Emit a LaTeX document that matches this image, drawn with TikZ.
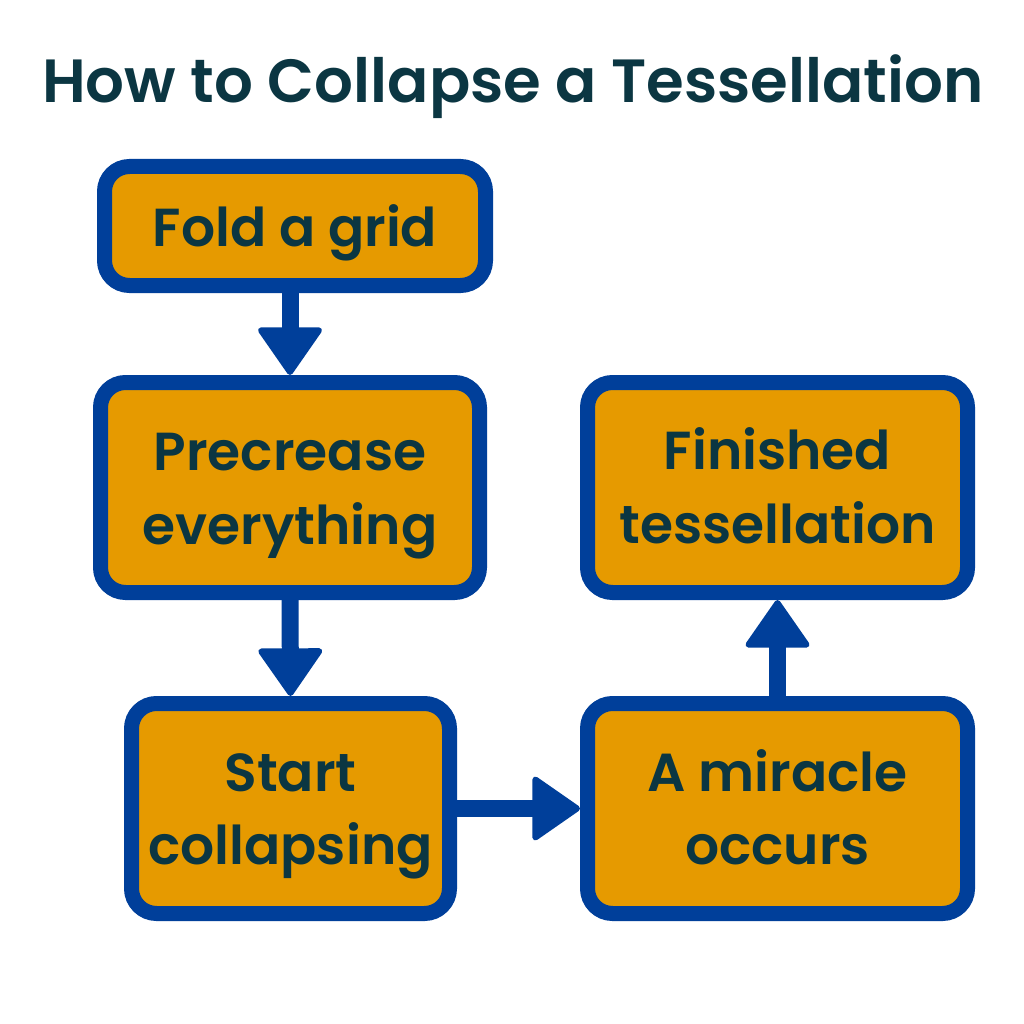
\documentclass[tikz,border=0pt]{standalone}
\usepackage{fontspec}
\setmainfont{Poppins SemiBold}
\usetikzlibrary{arrows.meta}
\definecolor{boxblue}{HTML}{003F9A}
\definecolor{boxfill}{HTML}{E69A00}
\definecolor{ink}{HTML}{0B3642}
\tikzset{
  stepbox/.style={draw=boxblue, fill=boxfill, line width=15pt, rounded corners=25pt, inner sep=0pt},
  boxtext/.style={text=ink, font=\fontsize{53.5}{74}\selectfont, anchor=base, inner sep=0pt},
  flow/.style={draw=boxblue, line width=17pt, -{Triangle[width=68pt,length=50pt,line width=6pt,round]}}
}
\begin{document}
\begin{tikzpicture}[x=1pt,y=-1pt]
\useasboundingbox (0,0) rectangle (1024,1024);
\fill[white] (0,0) rectangle (1024,1024);
\node[text=ink, font=\fontsize{61}{70}\selectfont, anchor=base, inner sep=0pt] (title) at (513,103) {How to Collapse a Tessellation};
% boxes
\node[stepbox, minimum width=381pt, minimum height=119pt] (b1) at (295,226) {};
\node[stepbox, minimum width=379pt, minimum height=210pt] (b2) at (290,487.5) {};
\node[stepbox, minimum width=318pt, minimum height=210pt] (b3) at (290.5,808.5) {};
\node[stepbox, minimum width=380pt, minimum height=210pt] (b4) at (777.5,808.5) {};
\node[stepbox, minimum width=380pt, minimum height=210pt] (b5) at (777.5,487.5) {};
% texts
\node[boxtext] (t1) at (295,247) {Fold a grid};
\node[boxtext] (t2a) at (290,470) {Precrease};
\node[boxtext] (t2b) at (290,544) {everything};
\node[boxtext] (t3a) at (290.5,791) {Start};
\node[boxtext] (t3b) at (290.5,864) {collapsing};
\node[boxtext] (t4a) at (777.5,791) {A miracle};
\node[boxtext] (t4b) at (777.5,864) {occurs};
\node[boxtext] (t5a) at (777.5,469) {Finished};
\node[boxtext] (t5b) at (777.5,543) {tessellation};
% arrows
\draw[flow] (b2.north |- b1.south) -- (b2.north);
\draw[flow] (b2.south) -- (b3.north);
\draw[flow] (b3.east) -- (b4.west);
\draw[flow] (b4.north) -- (b5.south);
\end{tikzpicture}
\end{document}
